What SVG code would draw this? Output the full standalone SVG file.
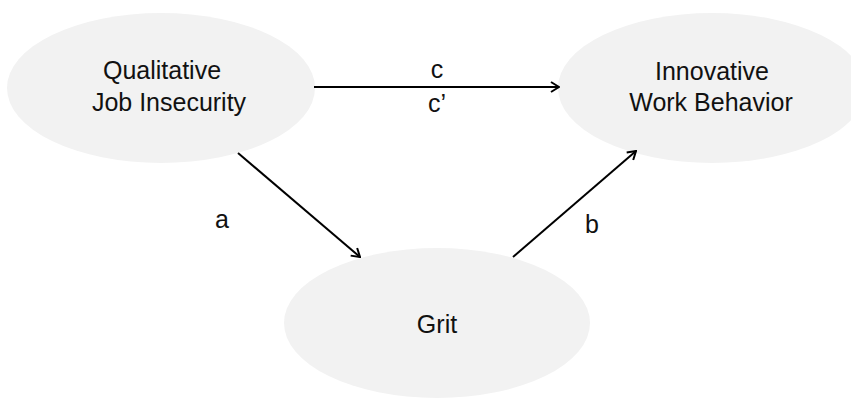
<svg xmlns="http://www.w3.org/2000/svg" width="851" height="399" viewBox="0 0 851 399">
<style>
.node{fill:#f2f2f2;stroke:none}
.lbl{font-family:"Liberation Sans",Arial,Helvetica,sans-serif;font-size:25px;fill:#111;text-anchor:middle}
.edge{stroke:#000;stroke-width:2;fill:none}
</style>
<defs>
<marker id="arr" viewBox="0 0 12 12" refX="11" refY="6" markerWidth="12" markerHeight="12" markerUnits="userSpaceOnUse" orient="auto">
<path d="M3,1 L11,6 L3,11" fill="none" stroke="#000" stroke-width="2"/>
</marker>
</defs>
<g id="qji">
<ellipse class="node" cx="161" cy="88" rx="154" ry="75"/>
<text class="lbl" x="162" y="79">Qualitative</text>
<text class="lbl" x="169" y="111">Job Insecurity</text>
</g>
<g id="iwb">
<ellipse class="node" cx="712" cy="88" rx="154" ry="75"/>
<text class="lbl" x="712" y="80">Innovative</text>
<text class="lbl" x="711" y="111">Work Behavior</text>
</g>
<g id="grit">
<ellipse class="node" cx="437" cy="323" rx="153" ry="75"/>
<text class="lbl" x="437" y="333">Grit</text>
</g>
<g id="connectors">
<line class="edge" x1="314" y1="87" x2="559" y2="87" marker-end="url(#arr)"/>
<line class="edge" x1="238" y1="153" x2="360" y2="257" marker-end="url(#arr)"/>
<line class="edge" x1="513" y1="257" x2="636" y2="151" marker-end="url(#arr)"/>
<text class="lbl" x="437" y="78">c</text>
<text class="lbl" x="437" y="112">c’</text>
<text class="lbl" x="222" y="228">a</text>
<text class="lbl" x="592" y="233">b</text>
</g>
</svg>
